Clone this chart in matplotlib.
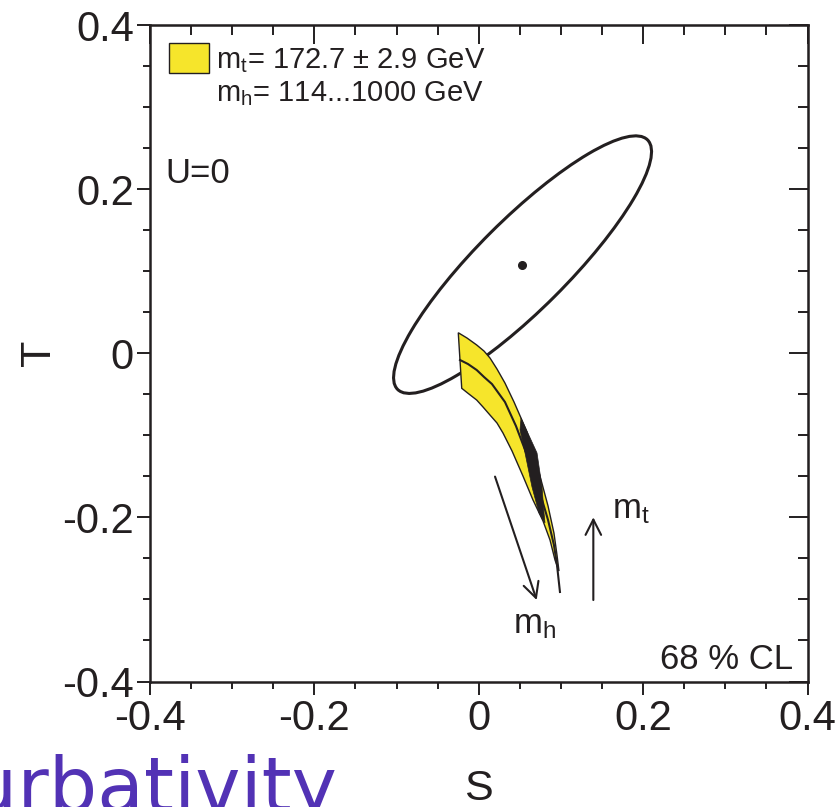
import matplotlib
matplotlib.use('Agg')
import matplotlib.pyplot as plt
from matplotlib.patches import Ellipse, Rectangle
from matplotlib.ticker import MultipleLocator

plt.rcParams['font.family'] = ['Liberation Sans', 'DejaVu Sans']
plt.rcParams['mathtext.fontset'] = 'custom'
plt.rcParams['mathtext.rm'] = 'Liberation Sans'
plt.rcParams['mathtext.it'] = 'Liberation Sans:italic'

ink = '#231F20'
yellow = '#F6E52B'

# best fit point and 68% CL contour (U=0)
fit_s, fit_t = 0.053, 0.107
ell_center = (0.0533, 0.108)
ell_width, ell_height, ell_angle = 0.43, 0.11, 45.0

# SM prediction band, mt = 172.7 +- 2.9 GeV, mh from 114 to 1000 GeV
upper_s = [-0.0249, -0.0143, -0.0025, 0.0064, 0.0137, 0.0222, 0.0319, 0.0429,
           0.0514, 0.0587, 0.0648, 0.0745, 0.0843, 0.0915, 0.0952, 0.0976]
upper_t = [0.0250, 0.0186, 0.0101, 0.0027, -0.0058, -0.0192, -0.0363, -0.0594,
           -0.0789, -0.0960, -0.1155, -0.1496, -0.1861, -0.2191, -0.2459, -0.2654]
lower_s = [-0.0207, -0.0119, -0.0025, 0.0052, 0.0137, 0.0222, 0.0295, 0.0405,
           0.0538, 0.0660, 0.0782, 0.0867, 0.0928, 0.0976]
lower_t = [-0.0427, -0.0497, -0.0570, -0.0655, -0.0753, -0.0850, -0.0972, -0.1191,
           -0.1496, -0.1788, -0.2044, -0.2276, -0.2520, -0.2654]
central_s = [-0.0228, -0.0131, -0.0025, 0.0064, 0.0161, 0.0319, 0.0453, 0.0550,
             0.0660, 0.0757, 0.0843, 0.0915, 0.0952, 0.0988]
central_t = [-0.0082, -0.0131, -0.0204, -0.0289, -0.0375, -0.0594, -0.0887, -0.1143,
             -0.1423, -0.1740, -0.2032, -0.2337, -0.2580, -0.2909]
dark_s = [0.0514, 0.0709, 0.0770, 0.0794, 0.0806, 0.0733, 0.0648, 0.0563, 0.0502]
dark_t = [-0.0789, -0.1215, -0.1630, -0.1946, -0.2068, -0.1946, -0.1630, -0.1215, -0.0935]

# direction arrows
mh_arrow = [(0.0198, -0.1503), (0.0705, -0.3007)]
mt_arrow = [(0.1394, -0.3007), (0.1394, -0.1999)]

fig = plt.figure(figsize=(8.35, 8.07), dpi=100)
ax = fig.add_axes([0.1796, 0.1555, 0.7875, 0.8135])

ax.add_patch(Ellipse(ell_center, ell_width, ell_height, angle=ell_angle,
                     fill=False, edgecolor=ink, linewidth=2.2))
ax.plot(fit_s, fit_t, 'o', color=ink, markersize=5.5)

band_s = upper_s + lower_s[::-1]
band_t = upper_t + lower_t[::-1]
ax.fill(band_s, band_t, facecolor=yellow, edgecolor=ink, linewidth=1.0)
ax.fill(dark_s, dark_t, facecolor=ink, edgecolor=ink, linewidth=0.5)
ax.plot(central_s, central_t, color=ink, linewidth=1.5)

arrow_props = dict(arrowstyle='->,head_length=0.55,head_width=0.28',
                   color=ink, linewidth=1.5, mutation_scale=20,
                   shrinkA=0, shrinkB=0)
ax.annotate('', xy=mh_arrow[1], xytext=mh_arrow[0], arrowprops=arrow_props)
ax.annotate('', xy=mt_arrow[1], xytext=mt_arrow[0], arrowprops=arrow_props)
ax.text(0.0417, -0.341, r'm$_\mathrm{h}$', fontsize=25, color=ink)
ax.text(0.162, -0.2008, r'm$_\mathrm{t}$', fontsize=25, color=ink)

ax.set_xlim(-0.4, 0.4)
ax.set_ylim(-0.4, 0.4)
ax.xaxis.set_major_locator(MultipleLocator(0.2))
ax.yaxis.set_major_locator(MultipleLocator(0.2))
ax.xaxis.set_minor_locator(MultipleLocator(0.05))
ax.yaxis.set_minor_locator(MultipleLocator(0.05))
ax.xaxis.set_major_formatter(lambda v, p: '0' if abs(v) < 1e-9 else f'{v:.1f}')
ax.yaxis.set_major_formatter(lambda v, p: '0' if abs(v) < 1e-9 else f'{v:.1f}')

for side in ax.spines.values():
    side.set_linewidth(1.8)
    side.set_color(ink)
ax.tick_params(which='both', color=ink, width=1.4, labelcolor=ink, labelsize=30)
ax.tick_params(which='major', length=9.5)
ax.tick_params(which='minor', length=5)
ax.tick_params(axis='x', which='both', direction='out', pad=3)
ax.tick_params(axis='y', which='both', direction='out', pad=2)

# inward ticks along the top and right edges
top = ax.secondary_xaxis('top')
right = ax.secondary_yaxis('right')
for sec in (top, right):
    sec.tick_params(which='major', direction='in', length=14, width=1.4, color=ink)
    sec.tick_params(which='minor', direction='in', length=7, width=1.4, color=ink)
top.set_xticks([-0.4, -0.2, 0, 0.2, 0.4])
top.xaxis.set_minor_locator(MultipleLocator(0.05))
top.set_xticklabels([])
right.set_yticks([-0.4, -0.2, 0, 0.2, 0.4])
right.yaxis.set_minor_locator(MultipleLocator(0.05))
right.set_yticklabels([])

ax.set_xlabel('S', fontsize=31, color=ink)
ax.set_ylabel('T', fontsize=31, color=ink)
ax.xaxis.label.set_va('center')
ax.yaxis.label.set_va('center')
ax.xaxis.set_label_coords(0.5, -0.163)
ax.yaxis.set_label_coords(-0.168, 0.5)

# legend entry
ax.add_patch(Rectangle((0.0294, 0.9273), 0.0599, 0.0457, transform=ax.transAxes,
                       facecolor=yellow, edgecolor=ink, linewidth=1.0))
ax.text(0.1004, 0.9345, r'm$_\mathrm{t}$= 172.7 ± 2.9 GeV', transform=ax.transAxes,
        fontsize=21, color=ink)
ax.text(0.1004, 0.8833, r'm$_\mathrm{h}$= 114...1000 GeV', transform=ax.transAxes,
        fontsize=21, color=ink)

ax.text(0.0228, 0.7587, 'U=0', transform=ax.transAxes, fontsize=25, color=ink)
ax.text(0.9775, 0.0186, '68 % CL', transform=ax.transAxes, fontsize=25,
        color=ink, ha='right')

fig.text(0.4036, -0.0062, 'Perturbativity', fontsize=55, color='#5232B5',
         ha='right', va='baseline', family='DejaVu Sans')

fig.savefig('out.png', dpi=100)
